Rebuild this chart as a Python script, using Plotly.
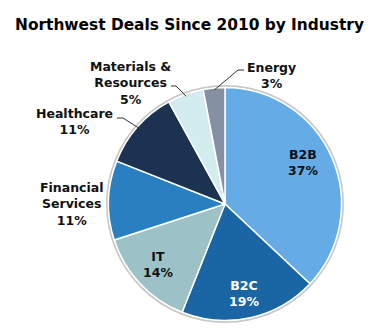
import math
import plotly.graph_objects as go

W, H = 380, 333
labels = ["B2B", "B2C", "IT", "Financial Services", "Healthcare", "Materials & Resources", "Energy"]
values = [37, 19, 14, 11, 11, 5, 3]
colors = ["#65ABE5", "#1A65A3", "#9CC2C8", "#2A7FC0", "#1B3250", "#D2ECF0", "#8690A3"]
display = ["B2B", "B2C", "IT", "Financial<br>Services", "Healthcare", "Materials &<br>Resources", "Energy"]
text_colors = ["#111111", "#FFFFFF", "#111111", "#111111", "#111111", "#111111", "#111111"]

# layout: pie geometry (pixels)
CX, CY, R = 225, 204, 116.5
# label centers (pixels)
label_pos = [(303, 162), (244, 293), (158, 264), (71, 204), (74, 122), (130, 83), (271, 76)]
# leader elbows for outside labels: index -> list of points (from label side to elbow)
leaders = {
    4: [(117, 118), (123, 118)],
    5: [(171, 86), (176, 86)],
    6: [(244, 70), (238, 70)],
}

def paper(x, y):
    return x / W, 1 - y / H

fig = go.Figure(go.Pie(
    labels=labels, values=values, sort=False, direction="clockwise", rotation=0,
    marker=dict(colors=colors, line=dict(color="#FFFFFF", width=1.5)),
    textinfo="none", hoverinfo="label+percent", showlegend=False,
    domain=dict(x=[(CX - R) / W, (CX + R) / W], y=[1 - (CY + R) / H, 1 - (CY - R) / H]),
))

total = sum(values)
annotations = []
shapes = []
# soft gray rim
x0, y0 = paper(CX - R - 1.5, CY + R + 1.5)
x1, y1 = paper(CX + R + 1.5, CY - R - 1.5)
shapes.append(dict(type="circle", xref="paper", yref="paper", x0=x0, y0=y0, x1=x1, y1=y1,
                   line=dict(color="#C8C8C8", width=2), layer="below"))

cum = 0
for i, v in enumerate(values):
    mid = (cum + v / 2) / total * 2 * math.pi
    cum += v
    pct = round(v / total * 100)
    lx, ly = label_pos[i]
    ax, ay = paper(lx, ly)
    annotations.append(dict(
        x=ax, y=ay, xref="paper", yref="paper", showarrow=False,
        xanchor="center", yanchor="middle",
        text=f"{display[i]}<br>{pct}%", align="center",
        font=dict(family="DejaVu Sans", size=12.5, color=text_colors[i], weight="bold"),
    ))
    if i in leaders:
        ex = CX + (R - 2) * math.sin(mid)
        ey = CY - (R - 2) * math.cos(mid)
        pts = leaders[i] + [(ex, ey)]
        path = "M " + " L ".join(f"{paper(px, py)[0]},{paper(px, py)[1]}" for px, py in pts)
        shapes.append(dict(type="path", xref="paper", yref="paper", path=path,
                           line=dict(color="#333333", width=1)))

annotations.append(dict(
    x=paper(189, 0)[0], y=paper(0, 25)[1], xref="paper", yref="paper", showarrow=False,
    xanchor="center", yanchor="middle",
    text="Northwest Deals Since 2010 by Industry",
    font=dict(family="DejaVu Sans", size=15.4, color="#000000", weight="bold"),
))

fig.update_layout(
    width=W, height=H, margin=dict(l=0, r=0, t=0, b=0),
    paper_bgcolor="#FFFFFF", plot_bgcolor="#FFFFFF",
    annotations=annotations, shapes=shapes,
)
fig.write_html("out.html")
